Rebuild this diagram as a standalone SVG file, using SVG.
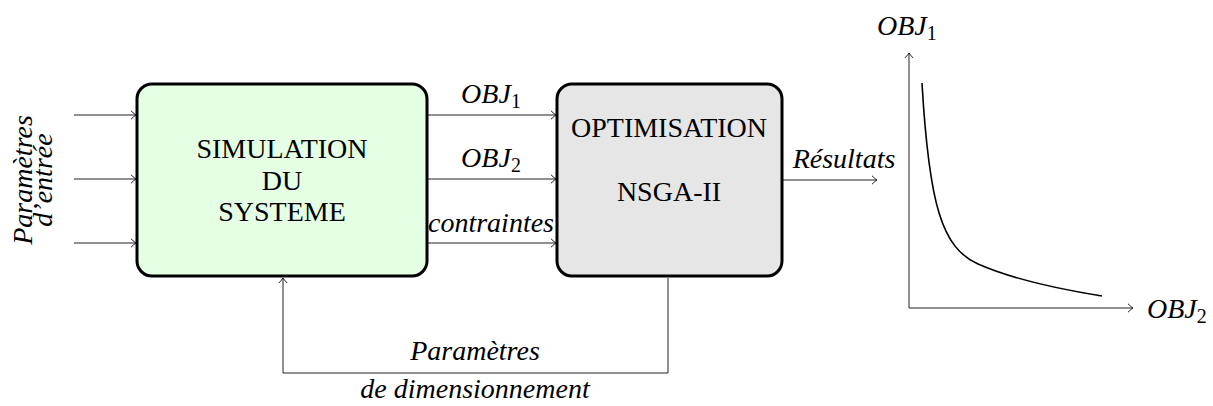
<svg xmlns="http://www.w3.org/2000/svg" width="1213" height="406" viewBox="0 0 1213 406" font-family="'Liberation Serif', 'Times New Roman', Times, serif">
<style>
  text { font-family: "Liberation Serif", "Times New Roman", Times, serif; font-size: 28px; fill: #000; }
  .it { font-style: italic; }
  .sub { font-style: normal; font-size: 20px; }
  .box { stroke: #000; stroke-width: 3; }
  .conn { fill: none; stroke: #222; stroke-width: 1; }
</style>
<defs>
  <marker id="to" markerUnits="userSpaceOnUse" markerWidth="12" markerHeight="12" refX="0" refY="0" viewBox="-6 -6 12 12" orient="auto" overflow="visible">
    <path d="M-5,-4.2 Q-1.5,-0.8 0,0 Q-1.5,0.8 -5,4.2" fill="none" stroke="#222" stroke-width="1"/>
  </marker>
</defs>

<g id="connectors">
  <path class="conn" d="M74,115 H136" marker-end="url(#to)"/>
  <path class="conn" d="M74,179 H136" marker-end="url(#to)"/>
  <path class="conn" d="M74,243 H136" marker-end="url(#to)"/>
  <path class="conn" d="M428,115 H556" marker-end="url(#to)"/>
  <path class="conn" d="M428,179 H556" marker-end="url(#to)"/>
  <path class="conn" d="M428,243 H556" marker-end="url(#to)"/>
  <path class="conn" d="M783,180 H877" marker-end="url(#to)"/>
  <path class="conn" d="M668,278 V373 H283 V278" marker-end="url(#to)"/>
</g>

<g id="input-label">
  <text class="it" text-anchor="middle" transform="translate(32,180) rotate(-90)">Paramètres</text>
  <text class="it" text-anchor="middle" transform="translate(52,180) rotate(-90)">d’entrée</text>
</g>

<g id="simulation">
  <rect class="box" x="137" y="84" width="290" height="192" rx="15" fill="#e5ffe5"/>
  <text x="282" y="158" text-anchor="middle">SIMULATION</text>
  <text x="282" y="190" text-anchor="middle">DU</text>
  <text x="282" y="221" text-anchor="middle">SYSTEME</text>
</g>

<g id="optimisation">
  <rect class="box" x="557" y="84" width="225" height="192" rx="15" fill="#e6e6e6"/>
  <text x="669" y="137" text-anchor="middle">OPTIMISATION</text>
  <text x="669" y="201" text-anchor="middle">NSGA-II</text>
</g>

<g id="edge-labels">
  <text class="it" x="491" y="103" text-anchor="middle">OBJ<tspan class="sub" dy="5">1</tspan></text>
  <text class="it" x="491" y="167" text-anchor="middle">OBJ<tspan class="sub" dy="5">2</tspan></text>
  <text class="it" x="491" y="232" text-anchor="middle">contraintes</text>
  <text class="it" x="844" y="168" text-anchor="middle">Résultats</text>
  <text class="it" x="475" y="360" text-anchor="middle">Paramètres</text>
  <text class="it" x="475" y="398" text-anchor="middle">de dimensionnement</text>
</g>

<g id="pareto-plot">
  <path class="conn" d="M909,308 V53" marker-end="url(#to)"/>
  <path class="conn" d="M909,308 H1133" marker-end="url(#to)"/>
  <path d="M922,83 C929,205 942,248 978,264 C1012,279 1052,288 1102,296" fill="none" stroke="#000" stroke-width="1.6"/>
  <text class="it" x="877" y="35">OBJ<tspan class="sub" dy="5">1</tspan></text>
  <text class="it" x="1147" y="318">OBJ<tspan class="sub" dy="5">2</tspan></text>
</g>
</svg>
